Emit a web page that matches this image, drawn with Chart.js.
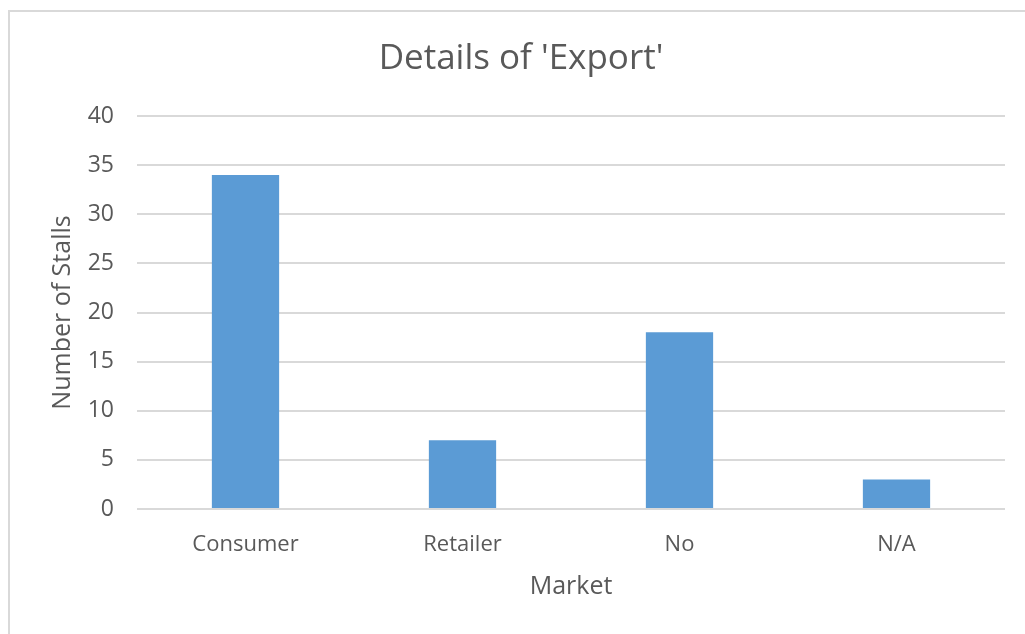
<!DOCTYPE html>
<html>
<head>
<meta charset="utf-8">
<script src="https://cdn.jsdelivr.net/npm/chart.js@4/dist/chart.umd.min.js"></script>
<style>
  html, body { margin: 0; padding: 0; background: #ffffff; }
  #wrap { position: relative; width: 1025px; height: 634px; }
</style>
</head>
<body>
<div id="wrap"><canvas id="chart" width="1025" height="634"></canvas></div>
<script>
// Number of stalls per export market
const categories = ['Consumer', 'Retailer', 'No', 'N/A'];
const stallCounts = [34, 7, 18, 3];
const yTicks = [0, 5, 10, 15, 20, 25, 30, 35, 40];

const textColor = '#595959';
const fontFamily = '"Open Sans", "Liberation Sans", sans-serif';

// White page with the light frame around the chart
const framePlugin = {
  id: 'frame',
  beforeDraw(chart) {
    const ctx = chart.ctx;
    ctx.save();
    ctx.fillStyle = '#ffffff';
    ctx.fillRect(0, 0, chart.width, chart.height);
    ctx.strokeStyle = '#d9d9d9';
    ctx.lineWidth = 2;
    ctx.strokeRect(9, 11, chart.width + 20, chart.height + 20);
    ctx.restore();
  }
};

new Chart(document.getElementById('chart'), {
  type: 'bar',
  data: {
    labels: categories,
    datasets: [{
      label: 'Number of Stalls',
      data: stallCounts,
      backgroundColor: '#5b9bd5',
      borderWidth: 0,
      categoryPercentage: 1,
      barPercentage: 0.31
    }]
  },
  options: {
    responsive: false,
    animation: false,
    devicePixelRatio: 1,
    layout: { padding: { left: 37, right: 20, top: 0, bottom: 0 } },
    plugins: {
      legend: { display: false },
      tooltip: { enabled: false },
      title: {
        display: true,
        text: "Details of 'Export'",
        color: textColor,
        font: { family: fontFamily, size: 35, weight: 'normal' },
        padding: { top: 38, bottom: 36 }
      }
    },
    scales: {
      x: {
        grid: { display: false },
        border: { display: false },
        ticks: {
          color: textColor,
          font: { family: fontFamily, size: 22 },
          padding: 15,
          maxRotation: 0
        },
        title: {
          display: true,
          text: 'Market',
          color: textColor,
          font: { family: fontFamily, size: 25 },
          padding: { top: 4, bottom: 32 }
        },
        afterFit(scale) { scale.height = 125; }
      },
      y: {
        min: 0,
        max: 40,
        afterBuildTicks(scale) { scale.ticks = yTicks.map(v => ({ value: v })); },
        grid: { color: '#d9d9d9', lineWidth: 2, drawTicks: false },
        border: { display: false },
        ticks: {
          color: textColor,
          font: { family: fontFamily, size: 23 },
          padding: 23
        },
        title: {
          display: true,
          text: 'Number of Stalls',
          color: textColor,
          font: { family: fontFamily, size: 25 },
          padding: { top: 11, bottom: 4 }
        },
        afterFit(scale) { scale.width = 100; }
      }
    }
  },
  plugins: [framePlugin]
});
</script>
</body>
</html>
